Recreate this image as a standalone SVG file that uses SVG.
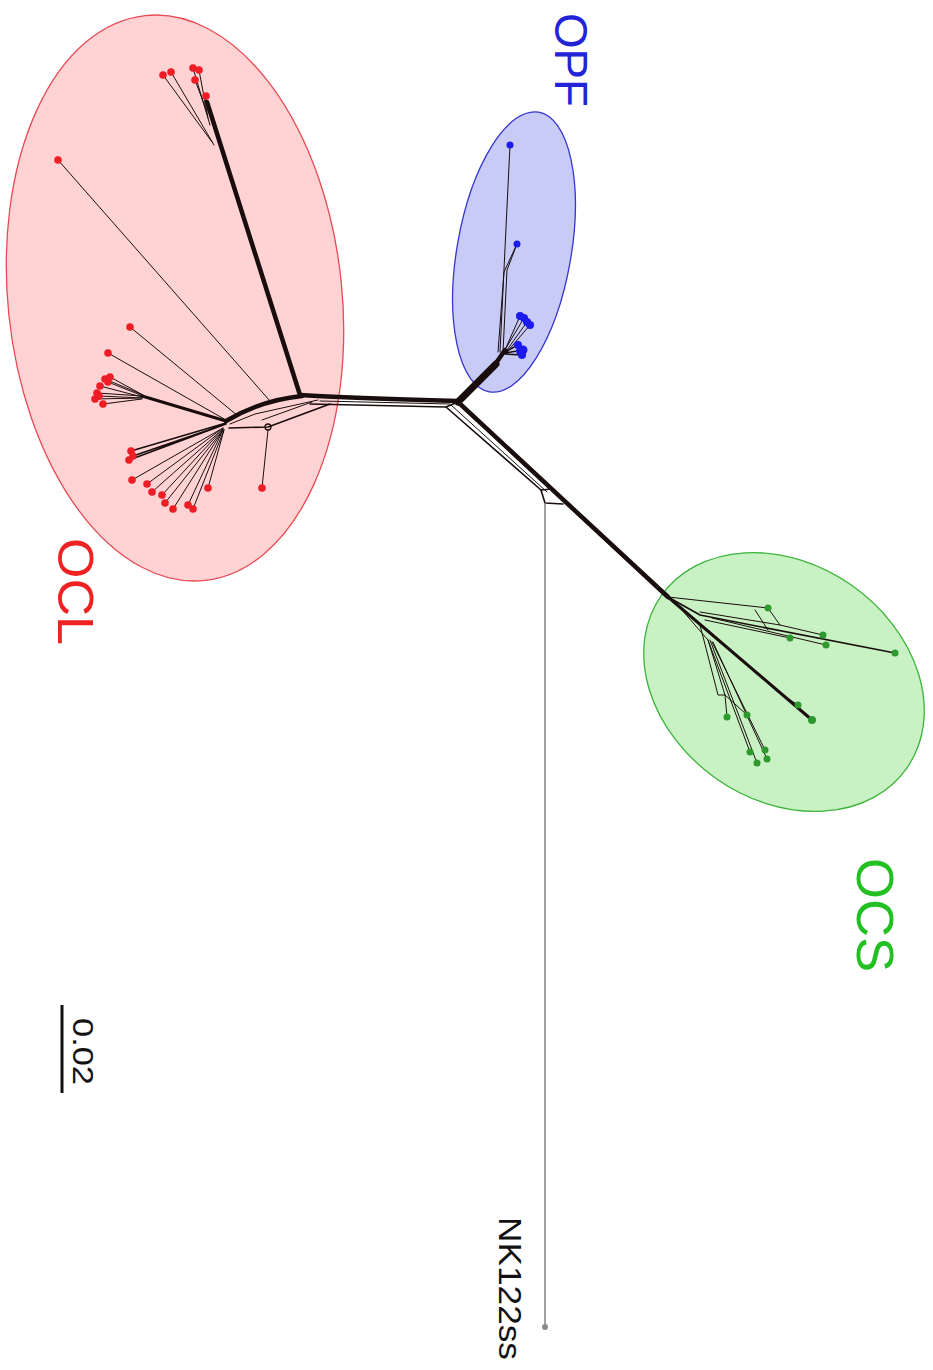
<svg xmlns="http://www.w3.org/2000/svg" width="933" height="1370" viewBox="0 0 933 1370">
<style>
.net{fill:none;stroke:#1a0d0d;stroke-linecap:round;stroke-linejoin:round}
.t1{stroke-width:1}
.t2{stroke-width:1.6}
.t3{stroke-width:3}
.t4{stroke-width:4.5}
.t6{stroke-width:7}
.lr{fill:#ee1c25}
.lb{fill:#1a1aee}
.lg{fill:#2e9a2e}
.lab{font-family:"Liberation Sans",Arial,sans-serif}
</style>
<rect width="933" height="1370" fill="#ffffff"/>

<g id="clusters">
  <ellipse id="ocl-area" cx="175" cy="298" rx="167" ry="284" transform="rotate(-6 175 298)" fill="#ffd3d3" stroke="#e84a55" stroke-width="1.3"/>
  <ellipse id="opf-area" cx="514" cy="252" rx="57" ry="142" transform="rotate(10 514 252)" fill="#c9cbf7" stroke="#3535d0" stroke-width="1.3"/>
  <ellipse id="ocs-area" cx="784" cy="682" rx="150" ry="118" transform="rotate(35 784 682)" fill="#c8f2c3" stroke="#3cb43c" stroke-width="1.3"/>
</g>

<g id="connectors">
  <!-- central splits -->
  <path class="net t4" d="M300,395 C330,397 380,399 458,401"/>
  <path class="net t2" d="M310,404 L446,407 L458,402"/>
  <path class="net t1" d="M320,401 L450,404"/>
  <path class="net t4" d="M458,402 L668,597"/>
  <path class="net t2" d="M446,407 L541,490 L552,489"/>
  <path class="net t1" d="M451,405 L547,492"/>
  <path class="net t2" d="M541,490 L545,503 L563,504"/>
  <path class="net t6" d="M458,402 L496,364"/>
  <path class="net t4" d="M494,366 L505,350"/>
  <path d="M545,503 L545,1327" fill="none" stroke="#8a8a8a" stroke-width="1.6"/>

  <!-- OCL -->
  <path class="net t4" d="M300,395 L207,102"/>
  <path class="net t1" d="M212,142 L163,75 M214,145 L171,72 M210,125 L193,68 M208,118 L199,70 M207,112 L195,80 M205,104 L206,96"/>
  <path class="net t4" d="M302,396 C272,399 248,408 226,421"/>
  <path class="net t2" d="M330,404 L268,427 L229,428"/>
  <path class="net t1" d="M318,400 L255,414 L230,424 M312,402 L262,420"/>
  <circle cx="268" cy="427" r="3" fill="none" stroke="#1a0d0d" stroke-width="1.3"/>
  <path class="net t1" d="M268,430 L262,488"/>
  <path class="net t1" d="M270,401 L58,160"/>
  <path class="net t1" d="M238,416 L130,327 M226,420 L108,353"/>
  <path class="net t3" d="M226,421 L142,396"/>
  <path class="net t1" d="M142,396 L97,393 M142,397 L100,386 M143,395 L105,379 M143,395 L110,377 M142,398 L95,399 M142,399 L103,404 M142,398 L99,396 M143,396 L108,382"/>
  <path class="net t2" d="M226,423 L131,451 M226,424 L129,460 M226,424 L133,456"/>
  <path class="net t1" d="M223,428 L132,480 M223,428 L147,484 M223,429 L152,492 M223,429 L162,495 M223,430 L165,503 M223,430 L173,509 M223,430 L188,505 M224,430 L193,509 M224,430 L208,488"/>

  <!-- OPF -->
  <path class="net t1" d="M500,352 L510,145"/>
  <path class="net t1" d="M503,352 L507,270 L517,244 M498,352 L504,272 L517,244"/>
  <path class="net t1" d="M505,350 L520,316 M507,350 L527,322 M507,352 L530,325 M506,348 L524,318"/>
  <path class="net t2" d="M505,352 L518,345 M505,353 L523,350 M505,354 L522,355"/>

  <!-- OCS -->
  <path class="net t2" d="M668,597 L700,615 L895,653"/>
  <path class="net t1" d="M668,597 L768,608 M700,612 L780,625 L823,635 M712,618 L826,645 M705,620 L790,638 M755,610 L768,630 M768,608 L780,625"/>
  <path class="net t3" d="M668,597 L812,720"/>
  <path class="net t1" d="M775,690 L798,705"/>
  <path class="net t1" d="M675,602 L708,640 L725,695 L727,717 M708,640 L750,752 M710,640 L757,763 M712,642 L765,750 M713,642 L767,759 M725,695 L747,715 M700,625 L718,695 L725,695"/>
</g>

<g id="leaves-ocl">
  <circle class="lr" cx="163" cy="75" r="3.8"/><circle class="lr" cx="171" cy="72" r="3.8"/>
  <circle class="lr" cx="193" cy="68" r="3.8"/><circle class="lr" cx="199" cy="70" r="3.8"/>
  <circle class="lr" cx="195" cy="80" r="3.8"/><circle class="lr" cx="206" cy="96" r="3.8"/>
  <circle class="lr" cx="58" cy="160" r="3.8"/>
  <circle class="lr" cx="130" cy="327" r="3.8"/><circle class="lr" cx="108" cy="353" r="3.8"/>
  <circle class="lr" cx="97" cy="393" r="3.8"/><circle class="lr" cx="100" cy="386" r="3.8"/>
  <circle class="lr" cx="105" cy="379" r="3.8"/><circle class="lr" cx="110" cy="377" r="3.8"/>
  <circle class="lr" cx="95" cy="399" r="3.8"/><circle class="lr" cx="103" cy="404" r="3.8"/>
  <circle class="lr" cx="99" cy="396" r="3.8"/><circle class="lr" cx="108" cy="382" r="3.8"/>
  <circle class="lr" cx="131" cy="451" r="3.8"/><circle class="lr" cx="129" cy="460" r="3.8"/>
  <circle class="lr" cx="133" cy="456" r="3.8"/>
  <circle class="lr" cx="132" cy="480" r="3.8"/><circle class="lr" cx="147" cy="484" r="3.8"/>
  <circle class="lr" cx="152" cy="492" r="3.8"/><circle class="lr" cx="162" cy="495" r="3.8"/>
  <circle class="lr" cx="165" cy="503" r="3.8"/><circle class="lr" cx="173" cy="509" r="3.8"/>
  <circle class="lr" cx="188" cy="505" r="3.8"/><circle class="lr" cx="193" cy="509" r="3.8"/>
  <circle class="lr" cx="208" cy="488" r="3.8"/><circle class="lr" cx="262" cy="488" r="3.8"/>
</g>

<g id="leaves-opf">
  <circle class="lb" cx="510" cy="145" r="3.5"/><circle class="lb" cx="517" cy="244" r="3.5"/>
  <circle class="lb" cx="520" cy="316" r="4"/><circle class="lb" cx="524" cy="318" r="4"/>
  <circle class="lb" cx="527" cy="322" r="4"/><circle class="lb" cx="530" cy="325" r="4"/>
  <circle class="lb" cx="518" cy="345" r="4"/><circle class="lb" cx="523" cy="350" r="4.5"/>
  <circle class="lb" cx="522" cy="355" r="4"/><circle class="lb" cx="520" cy="351" r="4"/>
</g>

<g id="leaves-ocs">
  <circle class="lg" cx="768" cy="608" r="3.5"/><circle class="lg" cx="790" cy="638" r="3.5"/>
  <circle class="lg" cx="823" cy="635" r="3.5"/><circle class="lg" cx="826" cy="645" r="3.5"/>
  <circle class="lg" cx="895" cy="653" r="3.5"/>
  <circle class="lg" cx="798" cy="705" r="3.5"/><circle class="lg" cx="812" cy="720" r="4"/>
  <circle class="lg" cx="727" cy="717" r="3.5"/><circle class="lg" cx="747" cy="715" r="3.5"/>
  <circle class="lg" cx="750" cy="752" r="3.5"/><circle class="lg" cx="765" cy="750" r="3.5"/>
  <circle class="lg" cx="757" cy="763" r="3.5"/><circle class="lg" cx="767" cy="759" r="3.5"/>
</g>

<g id="outgroup">
  <circle cx="545" cy="1327" r="3" fill="#8a8a8a"/>
  <text class="lab" transform="translate(499,1217) rotate(90)" font-size="31" textLength="143" lengthAdjust="spacingAndGlyphs" fill="#111">NK122ss</text>
</g>

<g id="labels">
  <text class="lab" transform="translate(555,13) rotate(90)" font-size="46" textLength="94" lengthAdjust="spacingAndGlyphs" fill="#2323d8">OPF</text>
  <text class="lab" transform="translate(58,538) rotate(90)" font-size="50" textLength="107" lengthAdjust="spacingAndGlyphs" fill="#ee2222">OCL</text>
  <text class="lab" transform="translate(857,858) rotate(90)" font-size="52" textLength="114" lengthAdjust="spacingAndGlyphs" fill="#22c022">OCS</text>
</g>

<g id="scale">
  <line x1="62" y1="1005" x2="62" y2="1093" stroke="#111" stroke-width="3"/>
  <text class="lab" transform="translate(73,1018) rotate(90)" font-size="29" textLength="67" lengthAdjust="spacingAndGlyphs" fill="#111">0.02</text>
</g>
</svg>
